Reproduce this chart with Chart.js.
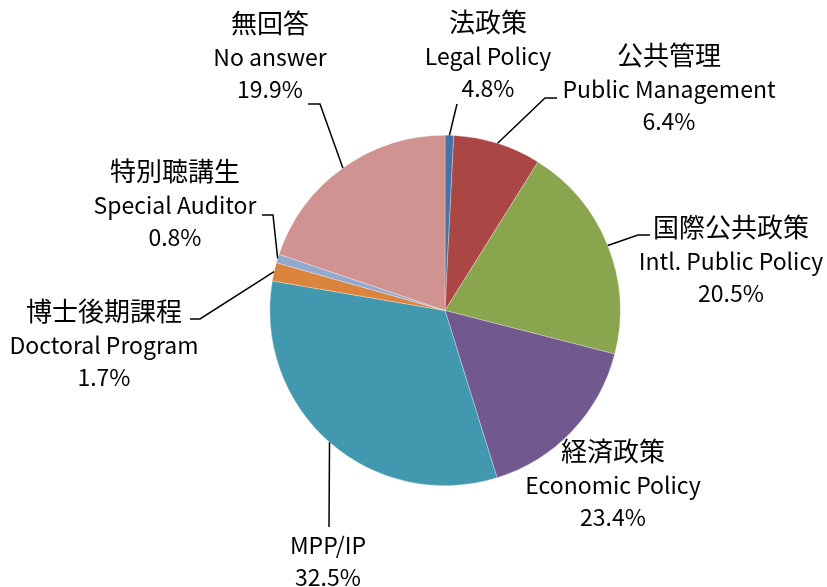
<!DOCTYPE html>
<html lang="ja">

<head>
    <meta charset="UTF-8">
    <meta name="viewport" content="width=device-width, initial-scale=1.0">
    <title>回答者の所属</title>
    <script src="https://cdn.jsdelivr.net/npm/chart.js@4.4.0/dist/chart.umd.min.js"></script>
    <style>
        html, body {
            margin: 0;
            padding: 0;
            background: #fff;
        }

        #pie {
            display: block;
        }
    </style>
</head>

<body>
    <canvas id="pie" width="827" height="587"></canvas>

    <script>
        // slices go clockwise from 12 o'clock
        const labelsJa = ['法政策', '公共管理', '国際公共政策', '経済政策', '', '博士後期課程', '特別聴講生', '無回答'];
        const labelsEn = ['Legal Policy', 'Public Management', 'Intl. Public Policy', 'Economic Policy', 'MPP/IP', 'Doctoral Program', 'Special Auditor', 'No answer'];
        const shares = [0.8, 8.1, 20.1, 16.2, 32.5, 1.7, 0.8, 19.8];
        const pctLabels = ['4.8%', '6.4%', '20.5%', '23.4%', '32.5%', '1.7%', '0.8%', '19.9%'];

        const colors = ['#4572A7', '#AA4643', '#89A54E', '#71588F', '#4198AF', '#DB843D', '#93A9CF', '#D19392'];

        const FONT = '"Noto Sans CJK JP", "Noto Sans", sans-serif';

        // where each label block sits: text centre x, first line y, leader elbow points
        const placement = [
            { x: 488, y: 22, lead: [[457, 104]] },
            { x: 669, y: 55, lead: [[557, 98], [545, 98]] },
            { x: 731, y: 227, lead: [[650, 235], [638, 235]] },
            { x: 613, y: 451, lead: null },
            { x: 328, y: 545, lead: [[329, 527]] },
            { x: 104, y: 311, lead: [[190, 319], [200, 319]] },
            { x: 175, y: 171, lead: [[262, 215], [273, 215]] },
            { x: 270, y: 23, lead: [[308, 104], [320, 104]] }
        ];

        const pieLabels = {
            id: 'pieLabels',
            afterDatasetsDraw(chart) {
                const ctx = chart.ctx;
                const meta = chart.getDatasetMeta(0);
                ctx.save();

                meta.data.forEach((arc, i) => {
                    const p = placement[i];
                    const mid = (arc.startAngle + arc.endAngle) / 2;
                    const ex = arc.x + Math.cos(mid) * arc.outerRadius;
                    const ey = arc.y + Math.sin(mid) * arc.outerRadius;

                    // leader line
                    if (p.lead) {
                        ctx.strokeStyle = '#000';
                        ctx.lineWidth = 1.5;
                        ctx.beginPath();
                        ctx.moveTo(p.lead[0][0], p.lead[0][1]);
                        p.lead.slice(1).forEach(pt => ctx.lineTo(pt[0], pt[1]));
                        ctx.lineTo(ex, ey);
                        ctx.stroke();
                    }

                    // text lines: japanese name, english name, percent
                    const lines = [];
                    if (labelsJa[i]) lines.push({ t: labelsJa[i], size: 26 });
                    lines.push({ t: labelsEn[i], size: 23 });
                    lines.push({ t: pctLabels[i], size: 23 });
                    const gaps = lines.length === 3 ? [0, 34, 66] : [0, 32];
                    ctx.fillStyle = '#000';
                    ctx.textAlign = 'center';
                    ctx.textBaseline = 'middle';
                    lines.forEach((ln, k) => {
                        ctx.font = ln.size + 'px ' + FONT;
                        ctx.fillText(ln.t, p.x, p.y + gaps[k]);
                    });
                });

                ctx.restore();
            }
        };

        new Chart(document.getElementById('pie'), {
            type: 'pie',
            data: {
                labels: labelsEn,
                datasets: [{
                    data: shares,
                    backgroundColor: colors,
                    borderColor: 'rgba(255,255,255,0.6)',
                    borderWidth: 0.5
                }]
            },
            options: {
                responsive: false,
                animation: false,
                layout: {
                    padding: { left: 269.5, right: 206.5, top: 135, bottom: 101 }
                },
                plugins: {
                    legend: { display: false },
                    tooltip: { enabled: false }
                }
            },
            plugins: [pieLabels]
        });
    </script>
</body>

</html>
